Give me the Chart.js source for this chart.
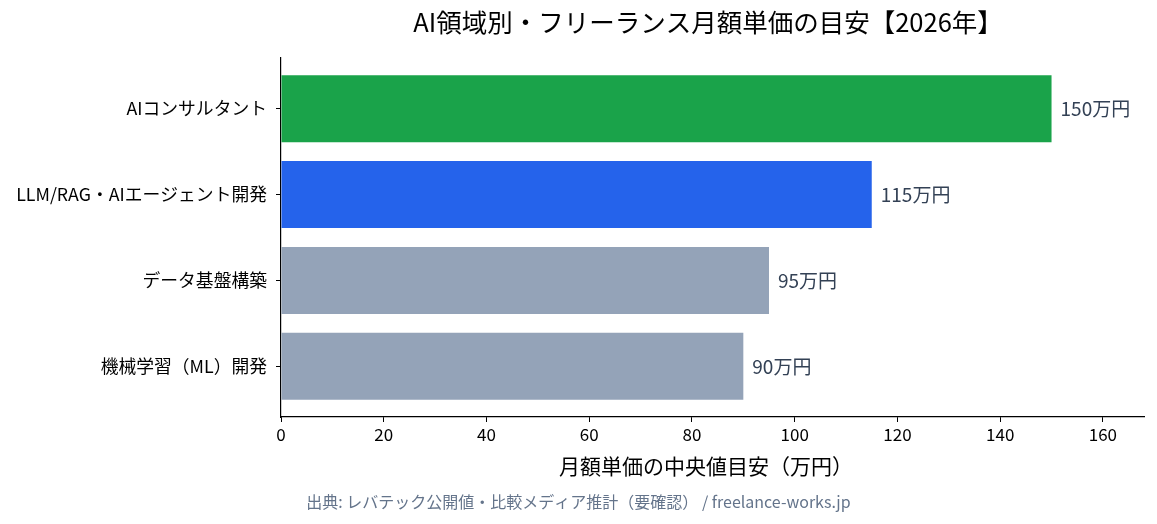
<!DOCTYPE html>
<html>
<head>
<meta charset="utf-8">
<script src="https://cdn.jsdelivr.net/npm/chart.js@4"></script>
<style>
  body { margin: 0; background: #fff; }
  #wrap { width: 1157px; height: 524px; }
</style>
</head>
<body>
<div id="wrap"><canvas id="rateChart"></canvas></div>
<script>
const categories = ['AIコンサルタント', 'LLM/RAG・AIエージェント開発', 'データ基盤構築', '機械学習（ML）開発'];
const monthlyRates = [150, 115, 95, 90];
const barColors = ['#1aa34a', '#2563eb', '#94a3b8', '#94a3b8'];
const xTicks = [0, 20, 40, 60, 80, 100, 120, 140, 160];

const chartTitle = 'AI領域別・フリーランス月額単価の目安【2026年】';
const xTitle = '月額単価の中央値目安（万円）';
const footNote = '出典: レバテック公開値・比較メディア推計（要確認） / freelance-works.jp';

const FONT = '"Noto Sans CJK JP", "Noto Sans", sans-serif';

// title, axis title, footer and value labels
const textPlugin = {
    id: 'texts',
    afterDatasetsDraw(chart) {
        const c = chart.ctx;
        const xs = chart.scales.x;
        const ys = chart.scales.y;
        c.save();
        c.textBaseline = 'middle';

        c.fillStyle = '#334155';
        c.font = '19px ' + FONT;
        c.textAlign = 'left';
        monthlyRates.forEach((v, i) => {
            c.fillText(v + '万円', xs.getPixelForValue(v) + 9, ys.getPixelForValue(i));
        });

        c.fillStyle = '#000';
        c.textAlign = 'center';
        c.font = '25.5px ' + FONT;
        c.fillText(chartTitle, 708, 22);

        c.font = '21px ' + FONT;
        c.fillText(xTitle, 706, 466);

        c.fillStyle = '#64748b';
        c.font = '16px ' + FONT;
        c.fillText(footNote, chart.width / 2, 502);
        c.restore();
    }
};

const ctx = document.getElementById('rateChart');
new Chart(ctx, {
    type: 'bar',
    data: {
        datasets: [{
            data: monthlyRates.map((v, i) => ({ x: v, y: i })),
            backgroundColor: barColors,
            borderWidth: 0,
            barPercentage: 0.78,
            categoryPercentage: 1
        }]
    },
    options: {
        indexAxis: 'y',
        responsive: true,
        maintainAspectRatio: false,
        animation: false,
        layout: { padding: { top: 58, right: 13, bottom: 0, left: 0 } },
        plugins: {
            legend: { display: false },
            tooltip: { enabled: false }
        },
        scales: {
            x: {
                type: 'linear',
                min: 0,
                max: 168,
                afterBuildTicks: s => { s.ticks = xTicks.map(v => ({ value: v })); },
                afterFit: s => { s.height = 107; },
                grid: { drawOnChartArea: false, tickLength: 5, color: '#000' },
                border: { color: '#000', width: 1.2 },
                ticks: { color: '#000', font: { family: FONT, size: 17 }, padding: 2, maxRotation: 0 }
            },
            y: {
                type: 'linear',
                reverse: true,
                offset: false,
                min: -0.59,
                max: 3.59,
                afterBuildTicks: s => { s.ticks = categories.map((c, i) => ({ value: i })); },
                afterFit: s => { s.width = 281; },
                grid: { offset: false, drawOnChartArea: false, tickLength: 5, color: '#000' },
                border: { color: '#000', width: 1.2 },
                ticks: {
                    color: '#000',
                    font: { family: FONT, size: 17.8 },
                    padding: 9,
                    callback: v => categories[v] || ''
                }
            }
        }
    },
    plugins: [textPlugin]
});
</script>
</body>
</html>
